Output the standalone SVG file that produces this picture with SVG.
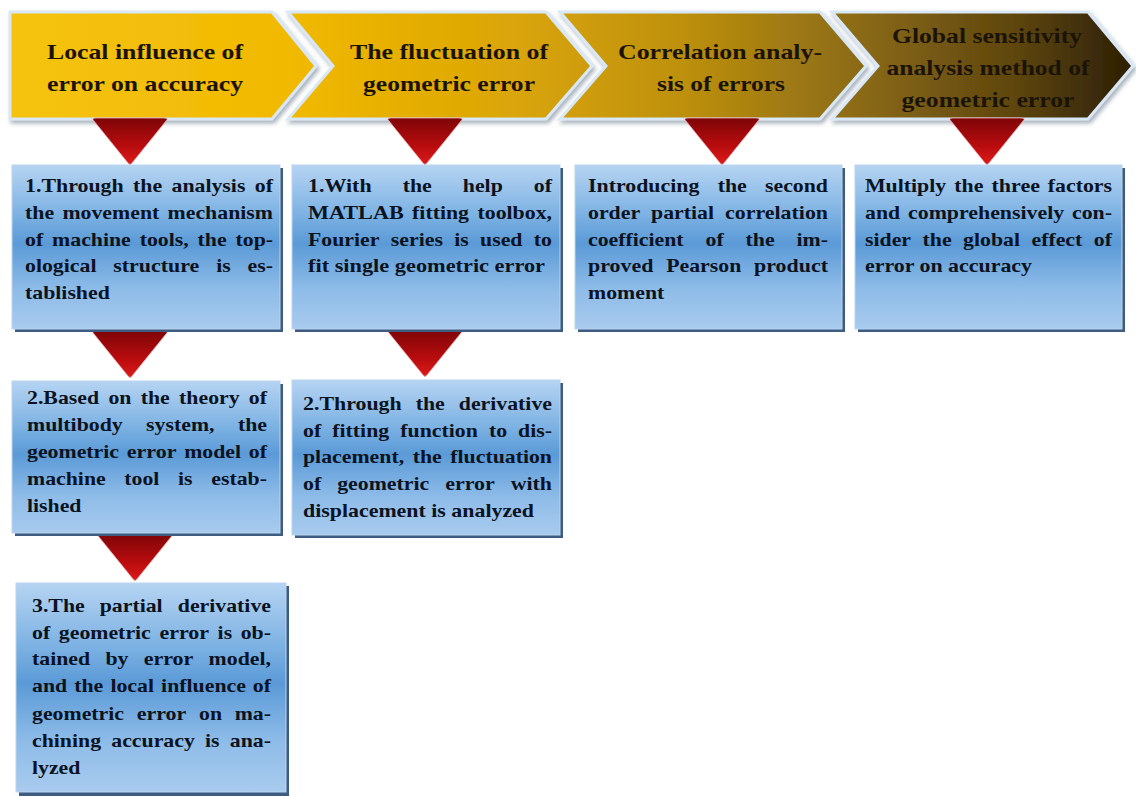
<svg xmlns="http://www.w3.org/2000/svg" xmlns:xlink="http://www.w3.org/1999/xlink" width="1136" height="796" viewBox="0 0 1136 796">
<style>
.hd{font-family:'Liberation Serif','Times New Roman',serif;font-weight:700;font-size:22px;fill:#1b1406;text-anchor:middle}
.tx{font-family:'Liberation Serif','Times New Roman',serif;font-weight:700;font-size:19px;fill:#0b1322}
.chev{fill:url(#chevg);stroke:#d9e8f6;stroke-width:3;stroke-linejoin:miter;filter:url(#sh)}
.box{fill:url(#boxg);stroke:#b9d4ef;stroke-width:1}
.bsh{fill:#3e5c82}
</style>
<defs>
<linearGradient id="chevg" gradientUnits="userSpaceOnUse" x1="10" y1="0" x2="1133" y2="0">
<stop offset="0" stop-color="#f5c30f"/>
<stop offset="0.25" stop-color="#f1b902"/>
<stop offset="0.45" stop-color="#daa507"/>
<stop offset="0.6" stop-color="#bd900f"/>
<stop offset="0.75" stop-color="#8d6c14"/>
<stop offset="0.9" stop-color="#5c4410"/>
<stop offset="1" stop-color="#2c1f03"/>
</linearGradient>
<linearGradient id="boxg" x1="0" y1="0" x2="0" y2="1">
<stop offset="0" stop-color="#b6d4f2"/>
<stop offset="0.3" stop-color="#7db2e3"/>
<stop offset="0.48" stop-color="#5b9ad7"/>
<stop offset="0.75" stop-color="#8dbbe8"/>
<stop offset="1" stop-color="#a9cbee"/>
</linearGradient>
<linearGradient id="trig" x1="0" y1="0" x2="0" y2="1">
<stop offset="0" stop-color="#7e0507"/>
<stop offset="0.6" stop-color="#b80c0e"/>
<stop offset="1" stop-color="#dc1a1a"/>
</linearGradient>
<filter id="sh" x="-5%" y="-10%" width="110%" height="125%">
<feGaussianBlur in="SourceAlpha" stdDeviation="2"/>
<feOffset dx="2" dy="3" result="b"/>
<feFlood flood-color="#6f7f90" flood-opacity="0.6"/>
<feComposite in2="b" operator="in"/>
<feMerge><feMergeNode/><feMergeNode in="SourceGraphic"/></feMerge>
</filter>
<path id="tri" d="M-34,0 Q-39,0 -36,3 L-2,45 Q0,48 2,45 L36,3 Q39,0 34,0 Z" fill="url(#trig)" stroke="#e9a9a9" stroke-width="0.8"/>
</defs>

<g id="stage1">
<polygon class="chev" points="10,12 272,12 316,66 272,119 10,119"/>
<text class="hd" x="145" y="59" textLength="196" lengthAdjust="spacingAndGlyphs">Local influence of</text>
<text class="hd" x="145" y="91" textLength="196" lengthAdjust="spacingAndGlyphs">error on accuracy</text>
</g>
<g id="stage2">
<polygon class="chev" points="288,12 546,12 592,66 546,119 288,119 333,66"/>
<text class="hd" x="449" y="59" textLength="198" lengthAdjust="spacingAndGlyphs">The fluctuation of</text>
<text class="hd" x="449" y="91" textLength="172" lengthAdjust="spacingAndGlyphs">geometric error</text>
</g>
<g id="stage3">
<polygon class="chev" points="560,12 820,12 866,66 820,119 560,119 606,66"/>
<text class="hd" x="720" y="59" textLength="204" lengthAdjust="spacingAndGlyphs">Correlation analy-</text>
<text class="hd" x="721" y="91" textLength="128" lengthAdjust="spacingAndGlyphs">sis of errors</text>
</g>
<g id="stage4">
<polygon class="chev" points="832,12 1088,12 1133,66 1088,119 832,119 878,66"/>
<text class="hd" x="987" y="43" textLength="190" lengthAdjust="spacingAndGlyphs">Global sensitivity</text>
<text class="hd" x="988" y="75" textLength="203" lengthAdjust="spacingAndGlyphs">analysis method of</text>
<text class="hd" x="988" y="107" textLength="173" lengthAdjust="spacingAndGlyphs">geometric error</text>
</g>

<g id="connectors">
<use xlink:href="#tri" x="130" y="118"/>
<use xlink:href="#tri" x="425" y="118"/>
<use xlink:href="#tri" x="722" y="118"/>
<use xlink:href="#tri" x="987" y="118"/>
<use xlink:href="#tri" x="130" y="331"/>
<use xlink:href="#tri" x="425" y="330"/>
<use xlink:href="#tri" x="135" y="534"/>
</g>

<g id="box1-1">
<rect class="bsh" x="15" y="168" width="268" height="164"/>
<rect class="box" x="12" y="165" width="268" height="164"/>
<text class="tx" y="192"><tspan x="25" textLength="98.7" lengthAdjust="spacingAndGlyphs">1.Through</tspan><tspan x="133.1" textLength="29.1" lengthAdjust="spacingAndGlyphs">the</tspan><tspan x="171.5" textLength="73.9" lengthAdjust="spacingAndGlyphs">analysis</tspan><tspan x="254.8" textLength="18.2" lengthAdjust="spacingAndGlyphs">of</tspan></text>
<text class="tx" y="219"><tspan x="25" textLength="29.1" lengthAdjust="spacingAndGlyphs">the</tspan><tspan x="62.4" textLength="96.9" lengthAdjust="spacingAndGlyphs">movement</tspan><tspan x="167.6" textLength="105.4" lengthAdjust="spacingAndGlyphs">mechanism</tspan></text>
<text class="tx" y="246"><tspan x="25" textLength="18.2" lengthAdjust="spacingAndGlyphs">of</tspan><tspan x="52.1" textLength="78.7" lengthAdjust="spacingAndGlyphs">machine</tspan><tspan x="139.7" textLength="49.1" lengthAdjust="spacingAndGlyphs">tools,</tspan><tspan x="197.6" textLength="29.1" lengthAdjust="spacingAndGlyphs">the</tspan><tspan x="235.5" textLength="37.5" lengthAdjust="spacingAndGlyphs">top-</tspan></text>
<text class="tx" y="272"><tspan x="25" textLength="71.5" lengthAdjust="spacingAndGlyphs">ological</tspan><tspan x="113.3" textLength="86" lengthAdjust="spacingAndGlyphs">structure</tspan><tspan x="216.2" textLength="14.5" lengthAdjust="spacingAndGlyphs">is</tspan><tspan x="247.6" textLength="25.4" lengthAdjust="spacingAndGlyphs">es-</tspan></text>
<text class="tx" y="299"><tspan x="25" textLength="84.8" lengthAdjust="spacingAndGlyphs">tablished</tspan></text>
</g>

<g id="box1-2">
<rect class="bsh" x="15" y="384" width="268" height="152"/>
<rect class="box" x="12" y="381" width="268" height="152"/>
<text class="tx" y="404"><tspan x="27" textLength="72.1" lengthAdjust="spacingAndGlyphs">2.Based</tspan><tspan x="108.4" textLength="23" lengthAdjust="spacingAndGlyphs">on</tspan><tspan x="140.7" textLength="29.1" lengthAdjust="spacingAndGlyphs">the</tspan><tspan x="179.1" textLength="60.5" lengthAdjust="spacingAndGlyphs">theory</tspan><tspan x="248.8" textLength="18.2" lengthAdjust="spacingAndGlyphs">of</tspan></text>
<text class="tx" y="431"><tspan x="27" textLength="95.7" lengthAdjust="spacingAndGlyphs">multibody</tspan><tspan x="146.1" textLength="68.4" lengthAdjust="spacingAndGlyphs">system,</tspan><tspan x="237.9" textLength="29.1" lengthAdjust="spacingAndGlyphs">the</tspan></text>
<text class="tx" y="458"><tspan x="27" textLength="92" lengthAdjust="spacingAndGlyphs">geometric</tspan><tspan x="126.8" textLength="49.6" lengthAdjust="spacingAndGlyphs">error</tspan><tspan x="184.2" textLength="56.9" lengthAdjust="spacingAndGlyphs">model</tspan><tspan x="248.8" textLength="18.2" lengthAdjust="spacingAndGlyphs">of</tspan></text>
<text class="tx" y="485"><tspan x="27" textLength="78.7" lengthAdjust="spacingAndGlyphs">machine</tspan><tspan x="124.3" textLength="35.1" lengthAdjust="spacingAndGlyphs">tool</tspan><tspan x="178" textLength="14.5" lengthAdjust="spacingAndGlyphs">is</tspan><tspan x="211.3" textLength="55.7" lengthAdjust="spacingAndGlyphs">estab-</tspan></text>
<text class="tx" y="512"><tspan x="27" textLength="54.5" lengthAdjust="spacingAndGlyphs">lished</tspan></text>
</g>

<g id="box1-3">
<rect class="bsh" x="19" y="586" width="270" height="210"/>
<rect class="box" x="16" y="583" width="270" height="209"/>
<text class="tx" y="612"><tspan x="32" textLength="52.7" lengthAdjust="spacingAndGlyphs">3.The</tspan><tspan x="99.7" textLength="63" lengthAdjust="spacingAndGlyphs">partial</tspan><tspan x="177.8" textLength="93.2" lengthAdjust="spacingAndGlyphs">derivative</tspan></text>
<text class="tx" y="639"><tspan x="32" textLength="18.2" lengthAdjust="spacingAndGlyphs">of</tspan><tspan x="58.8" textLength="92" lengthAdjust="spacingAndGlyphs">geometric</tspan><tspan x="159.4" textLength="49.6" lengthAdjust="spacingAndGlyphs">error</tspan><tspan x="217.6" textLength="14.5" lengthAdjust="spacingAndGlyphs">is</tspan><tspan x="240.7" textLength="30.3" lengthAdjust="spacingAndGlyphs">ob-</tspan></text>
<text class="tx" y="665"><tspan x="32" textLength="58.1" lengthAdjust="spacingAndGlyphs">tained</tspan><tspan x="105.4" textLength="23" lengthAdjust="spacingAndGlyphs">by</tspan><tspan x="143.7" textLength="49.6" lengthAdjust="spacingAndGlyphs">error</tspan><tspan x="208.6" textLength="62.4" lengthAdjust="spacingAndGlyphs">model,</tspan></text>
<text class="tx" y="692"><tspan x="32" textLength="35.1" lengthAdjust="spacingAndGlyphs">and</tspan><tspan x="74.2" textLength="29.1" lengthAdjust="spacingAndGlyphs">the</tspan><tspan x="110.4" textLength="43.6" lengthAdjust="spacingAndGlyphs">local</tspan><tspan x="161.1" textLength="84.8" lengthAdjust="spacingAndGlyphs">influence</tspan><tspan x="252.8" textLength="18.2" lengthAdjust="spacingAndGlyphs">of</tspan></text>
<text class="tx" y="720"><tspan x="32" textLength="92" lengthAdjust="spacingAndGlyphs">geometric</tspan><tspan x="136.7" textLength="49.6" lengthAdjust="spacingAndGlyphs">error</tspan><tspan x="199" textLength="23" lengthAdjust="spacingAndGlyphs">on</tspan><tspan x="234.7" textLength="36.3" lengthAdjust="spacingAndGlyphs">ma-</tspan></text>
<text class="tx" y="747"><tspan x="32" textLength="69.1" lengthAdjust="spacingAndGlyphs">chining</tspan><tspan x="111.3" textLength="83.5" lengthAdjust="spacingAndGlyphs">accuracy</tspan><tspan x="205" textLength="14.5" lengthAdjust="spacingAndGlyphs">is</tspan><tspan x="229.8" textLength="41.2" lengthAdjust="spacingAndGlyphs">ana-</tspan></text>
<text class="tx" y="774"><tspan x="32" textLength="48.4" lengthAdjust="spacingAndGlyphs">lyzed</tspan></text>
</g>

<g id="box2-1">
<rect class="bsh" x="295" y="168" width="268" height="164"/>
<rect class="box" x="292" y="165" width="268" height="164"/>
<text class="tx" y="192"><tspan x="308" textLength="63.6" lengthAdjust="spacingAndGlyphs">1.With</tspan><tspan x="402.7" textLength="29.1" lengthAdjust="spacingAndGlyphs">the</tspan><tspan x="462.8" textLength="40" lengthAdjust="spacingAndGlyphs">help</tspan><tspan x="533.8" textLength="18.2" lengthAdjust="spacingAndGlyphs">of</tspan></text>
<text class="tx" y="219"><tspan x="308" textLength="95.7" lengthAdjust="spacingAndGlyphs">MATLAB</tspan><tspan x="412.1" textLength="56.9" lengthAdjust="spacingAndGlyphs">fitting</tspan><tspan x="477.5" textLength="74.5" lengthAdjust="spacingAndGlyphs">toolbox,</tspan></text>
<text class="tx" y="246"><tspan x="308" textLength="71.4" lengthAdjust="spacingAndGlyphs">Fourier</tspan><tspan x="390.8" textLength="52.1" lengthAdjust="spacingAndGlyphs">series</tspan><tspan x="454.2" textLength="14.5" lengthAdjust="spacingAndGlyphs">is</tspan><tspan x="480.1" textLength="42.4" lengthAdjust="spacingAndGlyphs">used</tspan><tspan x="533.8" textLength="18.2" lengthAdjust="spacingAndGlyphs">to</tspan></text>
<text class="tx" y="272"><tspan x="308" textLength="237" lengthAdjust="spacingAndGlyphs">fit single geometric error</tspan></text>
</g>

<g id="box2-2">
<rect class="bsh" x="295" y="383" width="268" height="155"/>
<rect class="box" x="292" y="380" width="268" height="155"/>
<text class="tx" y="410"><tspan x="303" textLength="98.7" lengthAdjust="spacingAndGlyphs">2.Through</tspan><tspan x="415.7" textLength="29.1" lengthAdjust="spacingAndGlyphs">the</tspan><tspan x="458.8" textLength="93.2" lengthAdjust="spacingAndGlyphs">derivative</tspan></text>
<text class="tx" y="437"><tspan x="303" textLength="18.2" lengthAdjust="spacingAndGlyphs">of</tspan><tspan x="332.3" textLength="56.9" lengthAdjust="spacingAndGlyphs">fitting</tspan><tspan x="400.3" textLength="77.5" lengthAdjust="spacingAndGlyphs">function</tspan><tspan x="488.9" textLength="18.2" lengthAdjust="spacingAndGlyphs">to</tspan><tspan x="518.1" textLength="33.9" lengthAdjust="spacingAndGlyphs">dis-</tspan></text>
<text class="tx" y="463"><tspan x="303" textLength="101.1" lengthAdjust="spacingAndGlyphs">placement,</tspan><tspan x="412.7" textLength="29.1" lengthAdjust="spacingAndGlyphs">the</tspan><tspan x="450.3" textLength="101.7" lengthAdjust="spacingAndGlyphs">fluctuation</tspan></text>
<text class="tx" y="490"><tspan x="303" textLength="18.2" lengthAdjust="spacingAndGlyphs">of</tspan><tspan x="337.2" textLength="92" lengthAdjust="spacingAndGlyphs">geometric</tspan><tspan x="445.2" textLength="49.6" lengthAdjust="spacingAndGlyphs">error</tspan><tspan x="510.8" textLength="41.2" lengthAdjust="spacingAndGlyphs">with</tspan></text>
<text class="tx" y="517"><tspan x="303" textLength="231" lengthAdjust="spacingAndGlyphs">displacement is analyzed</tspan></text>
</g>

<g id="box3-1">
<rect class="bsh" x="578" y="168" width="267" height="164"/>
<rect class="box" x="575" y="165" width="267" height="164"/>
<text class="tx" y="192"><tspan x="588" textLength="111.4" lengthAdjust="spacingAndGlyphs">Introducing</tspan><tspan x="717.7" textLength="29.1" lengthAdjust="spacingAndGlyphs">the</tspan><tspan x="765" textLength="63" lengthAdjust="spacingAndGlyphs">second</tspan></text>
<text class="tx" y="219"><tspan x="588" textLength="52.1" lengthAdjust="spacingAndGlyphs">order</tspan><tspan x="651.1" textLength="63" lengthAdjust="spacingAndGlyphs">partial</tspan><tspan x="725.1" textLength="102.9" lengthAdjust="spacingAndGlyphs">correlation</tspan></text>
<text class="tx" y="246"><tspan x="588" textLength="95.6" lengthAdjust="spacingAndGlyphs">coefficient</tspan><tspan x="705.5" textLength="18.2" lengthAdjust="spacingAndGlyphs">of</tspan><tspan x="745.6" textLength="29.1" lengthAdjust="spacingAndGlyphs">the</tspan><tspan x="796.5" textLength="31.5" lengthAdjust="spacingAndGlyphs">im-</tspan></text>
<text class="tx" y="272"><tspan x="588" textLength="65.4" lengthAdjust="spacingAndGlyphs">proved</tspan><tspan x="666.2" textLength="75.1" lengthAdjust="spacingAndGlyphs">Pearson</tspan><tspan x="754.1" textLength="73.9" lengthAdjust="spacingAndGlyphs">product</tspan></text>
<text class="tx" y="299"><tspan x="588" textLength="76.3" lengthAdjust="spacingAndGlyphs">moment</tspan></text>
</g>

<g id="box4-1">
<rect class="bsh" x="858" y="168" width="267" height="164"/>
<rect class="box" x="855" y="165" width="267" height="164"/>
<text class="tx" y="192"><tspan x="865" textLength="81.2" lengthAdjust="spacingAndGlyphs">Multiply</tspan><tspan x="954.3" textLength="29.1" lengthAdjust="spacingAndGlyphs">the</tspan><tspan x="991.5" textLength="48.4" lengthAdjust="spacingAndGlyphs">three</tspan><tspan x="1047.8" textLength="64.2" lengthAdjust="spacingAndGlyphs">factors</tspan></text>
<text class="tx" y="219"><tspan x="865" textLength="35.1" lengthAdjust="spacingAndGlyphs">and</tspan><tspan x="908" textLength="156.2" lengthAdjust="spacingAndGlyphs">comprehensively</tspan><tspan x="1072" textLength="40" lengthAdjust="spacingAndGlyphs">con-</tspan></text>
<text class="tx" y="246"><tspan x="865" textLength="46" lengthAdjust="spacingAndGlyphs">sider</tspan><tspan x="922.5" textLength="29.1" lengthAdjust="spacingAndGlyphs">the</tspan><tspan x="963.1" textLength="56.9" lengthAdjust="spacingAndGlyphs">global</tspan><tspan x="1031.5" textLength="50.8" lengthAdjust="spacingAndGlyphs">effect</tspan><tspan x="1093.8" textLength="18.2" lengthAdjust="spacingAndGlyphs">of</tspan></text>
<text class="tx" y="272"><tspan x="865" textLength="167" lengthAdjust="spacingAndGlyphs">error on accuracy</tspan></text>
</g>
</svg>
